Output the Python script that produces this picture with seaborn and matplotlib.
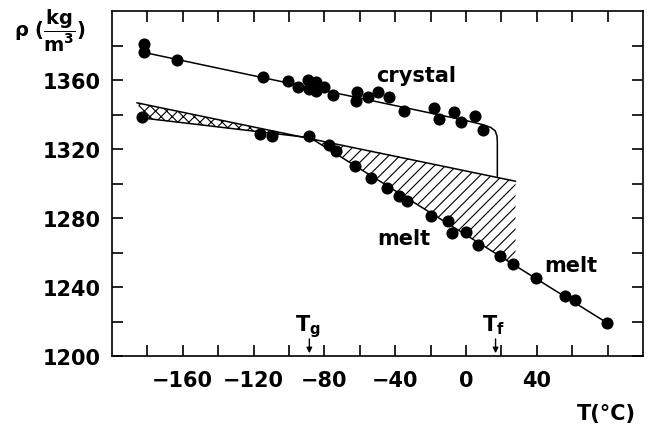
import numpy as np
import matplotlib
matplotlib.use('Agg')
import matplotlib.pyplot as plt
import seaborn as sns

# crystal density points (T in degC, rho in kg/m3)
crystal_T = [-182, -182, -163.5, -114.8, -100.7, -95, -89.4, -84.7, -88.5, -84.7, -80, -75.3,
             -61.5, -62, -55.5, -50, -43.4, -35, -18, -15.2, -6.8, -3, 5.1, 9.7]
crystal_rho = [1381, 1376, 1371.8, 1361.9, 1359.2, 1355.8, 1360, 1358.7, 1354.8, 1353.8, 1355.8, 1351.3,
               1353.2, 1348, 1350, 1353.2, 1350, 1342.2, 1343.5, 1337.4, 1341.3, 1335.8, 1338.9, 1331.2]

# glass / melt points
melt_T = [-183, -116.6, -109.7, -88.5, -77.6, -73.6, -62.5, -53.7, -44.8, -38.1, -33.4, -19.5,
          -9.9, -8.1, -0.2, 7, 19.2, 26.4, 39.6, 55.8, 61.8, 79.6]
melt_rho = [1338.4, 1328.7, 1327.4, 1327.5, 1322.3, 1318.6, 1310.3, 1303, 1297.4, 1292.9, 1290, 1281.3,
            1278, 1271.3, 1272, 1264.3, 1257.8, 1253.3, 1245, 1235, 1232.6, 1219.1]

# drawn curves
crystal_line_T = [-182, -120, -60, 0, 10, 14, 16.5, 17.5, 17.7, 17.7]
crystal_line_rho = [1376, 1362.5, 1349.5, 1336.5, 1334, 1332.5, 1330.5, 1327.5, 1324, 1303.5]
lower_T = [-183, -88, 80]
lower_rho = [1338, 1326.5, 1219]
upper_T = [-186, 28]
upper_rho = [1346.8, 1301.3]
Tg, Tf = -88.5, 16.7

x_ticks = list(range(-180, 81, 20))
x_labelled = [-160, -120, -80, -40, 0, 40]
y_ticks = list(range(1200, 1381, 20))
y_labelled = [1200, 1240, 1280, 1320, 1360]

sns.set_theme(style='ticks')
plt.rcParams['font.family'] = ['DejaVu Sans']
plt.rcParams['mathtext.fontset'] = 'dejavusans'
plt.rcParams['hatch.linewidth'] = 0.8
plt.rcParams['text.color'] = 'black'

fig = plt.figure(figsize=(6.48, 4.27), dpi=100)
ax = fig.add_axes([112/648, 1 - 357/427, 531/648, 345/427])

# hatched regions
T1 = np.array([-185, -89])
ax.fill_between(T1, np.interp(T1, lower_T, lower_rho), np.interp(T1, upper_T, upper_rho),
                facecolor='none', edgecolor='black', linewidth=0, hatch='xxx')
T2 = np.array([-89, -88, 28])
lo2 = np.interp(T2, lower_T, lower_rho)
up2 = np.interp(T2, upper_T, upper_rho)
ax.fill_between(T2, lo2, np.maximum(up2, lo2),
                facecolor='none', edgecolor='black', linewidth=0, hatch='///')

# lines
sns.lineplot(x=crystal_line_T, y=crystal_line_rho, sort=False, estimator=None, color='black', lw=1.1, ax=ax)
sns.lineplot(x=lower_T, y=lower_rho, sort=False, estimator=None, color='black', lw=1.1, ax=ax)
sns.lineplot(x=upper_T, y=upper_rho, sort=False, estimator=None, color='black', lw=1.1, ax=ax)

# points
sns.scatterplot(x=crystal_T, y=crystal_rho, color='black', s=76, linewidth=0, ax=ax, zorder=5)
sns.scatterplot(x=melt_T, y=melt_rho, color='black', s=76, linewidth=0, ax=ax, zorder=5)

ax.set_xlim(-200, 100)
ax.set_ylim(1200, 1400)
ax.set_xticks(x_ticks)
ax.set_xticklabels([str(v).replace('-', '\u2212') if v in x_labelled else '' for v in x_ticks])
ax.set_yticks(y_ticks)
ax.set_yticklabels([str(v) if v in y_labelled else '' for v in y_ticks])
ax.tick_params(direction='in', top=True, right=True, length=8, width=1.2,
               labelsize=15, colors='black')
ax.tick_params(axis='x', pad=10)
ax.tick_params(axis='y', pad=8)
for lab in ax.get_xticklabels() + ax.get_yticklabels():
    lab.set_fontweight('bold')
for sp in ax.spines.values():
    sp.set_linewidth(1.2)
    sp.set_color('black')
ax.set_xlabel('')
ax.set_ylabel('')

# annotations
ax.text(-28, 1359.6, 'crystal', ha='center', va='baseline', fontsize=15, fontweight='bold')
ax.text(-35, 1265, 'melt', ha='center', va='baseline', fontsize=15, fontweight='bold')
ax.text(59, 1249.3, 'melt', ha='center', va='baseline', fontsize=15, fontweight='bold')
ax.text(Tg - 1, 1215, r'$\mathbf{T_g}$', ha='center', va='baseline', fontsize=15)
ax.text(Tf - 1, 1215, r'$\mathbf{T_f}$', ha='center', va='baseline', fontsize=15)
for t in (Tg, Tf):
    ax.annotate('', xy=(t, 1200), xytext=(t, 1211.5),
                arrowprops=dict(arrowstyle='-|>', color='black', lw=1, mutation_scale=8))

fig.text(50/648, 1 - 31/427, r'$\mathbf{\rho\ (\dfrac{kg}{m^3})}$', ha='center', va='center', fontsize=14)
fig.text(606/648, 1 - 420/427, 'T(°C)', ha='center', va='baseline', fontsize=15, fontweight='bold')

fig.savefig('out.png', dpi=100)
